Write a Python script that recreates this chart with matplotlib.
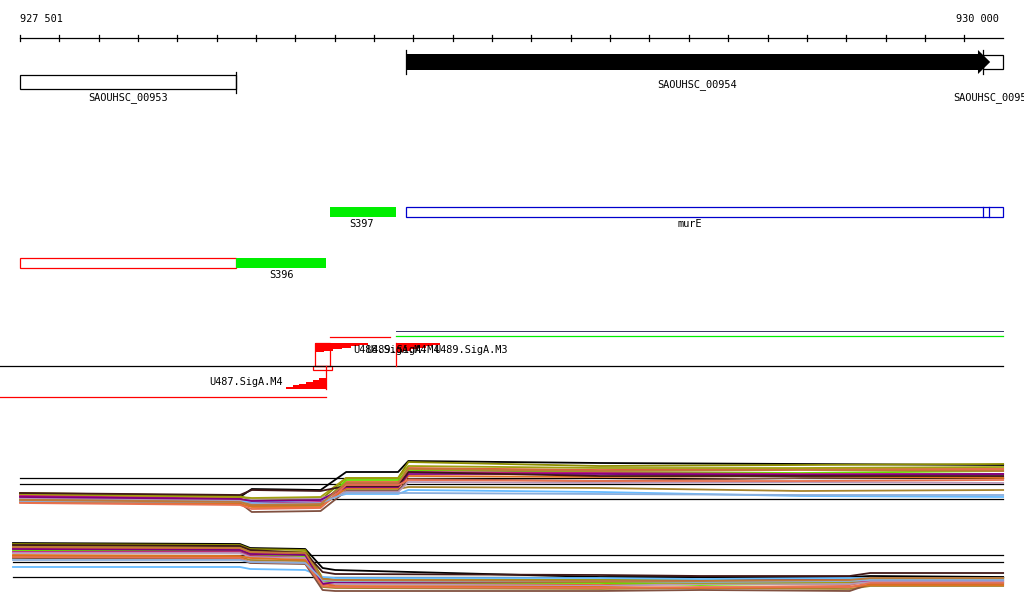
import numpy as np
import matplotlib.pyplot as plt
from matplotlib.patches import Rectangle, Polygon

# region shown (bp)
REGION_START = 927501
REGION_END = 930000
VIEW = (927450, 930053)
TICK_STEP = 100

# genes
GENE_NAMES = ["SAOUHSC_00953", "SAOUHSC_00954", "SAOUHSC_00955"]
GENE_START = [927501, 928482, 929949]
GENE_END = [928050, 929967, 930000]

# segments / operons
SEG_NAMES = ["S397", "murE", "S396"]

# promoters
PROM_NAMES = ["U487.SigA.M4", "U488.SigA.M4", "U489.SigA.M4", "U489.SigA.M3"]
PROM_POS = [928279, 928251, 928457, 928457]

# coverage track 1 (strand +): breakpoints and per-sample levels
TOP_X = [927501, 928060, 928090, 928265, 928330, 928462, 928488, 928975, 929485, 930000]
TOP_LINES = {
    "#000000": [494, 497, 489, 490, 472, 472, 461, 463, 464, 465],
    "#8c8c00": [493, 496, 500, 500, 478, 478, 462, 466, 465, 464],
    "#e0603a": [495, 498, 505, 504, 482, 482, 468, 470, 469, 469],
    "#66dd00": [497, 500, 506, 505, 480, 480, 470, 472, 473, 471],
    "#c0187a": [496, 499, 503, 502, 484, 484, 472, 473, 474, 474],
    "#66bbff": [500, 501, 502, 500, 494, 494, 490, 492, 496, 497],
    "#a8842c": [499, 502, 506, 505, 489, 489, 487, 488, 491, 490],
    "#805040": [501, 503, 512, 511, 491, 491, 479, 481, 478, 477],
    "#b898b8": [498, 500, 499, 498, 492, 492, 482, 483, 482, 483],
    "#e07020": [502, 504, 507, 507, 488, 488, 476, 477, 476, 478],
    "#800080": [497, 499, 501, 500, 487, 487, 474, 474, 475, 474],
    "#a0a010": [494, 497, 498, 497, 478, 478, 466, 468, 468, 467],
    "#401818": [493, 495, 490, 491, 486, 486, 472, 476, 476, 476],
    "#e87050": [503, 505, 509, 508, 485, 485, 480, 481, 481, 480],
    "#8aaedc": [501, 502, 504, 503, 493, 493, 493, 494, 495, 495],
    "#c07838": [500, 502, 505, 504, 483, 483, 469, 471, 470, 471],
}
TOP_REF = [478, 484, 499]

# coverage track 2 (strand -)
BOT_X = [927483, 928060, 928086, 928226, 928270, 928302, 928975, 929230, 929610, 929662, 930000]
BOT_LINES = {
    "#000000": [543, 544, 548, 549, 568, 570, 577, 577, 577, 576, 577],
    "#8c8c00": [544, 545, 549, 550, 578, 580, 580, 580, 579, 578, 578],
    "#e0603a": [548, 549, 553, 554, 583, 584, 585, 584, 585, 581, 582],
    "#66dd00": [550, 551, 555, 556, 581, 583, 583, 585, 583, 582, 583],
    "#c0187a": [552, 552, 556, 558, 585, 583, 582, 582, 582, 581, 581],
    "#66bbff": [567, 567, 569, 570, 577, 578, 578, 579, 578, 578, 578],
    "#a8842c": [556, 557, 560, 561, 587, 588, 589, 588, 589, 586, 586],
    "#805040": [558, 559, 563, 564, 590, 591, 591, 590, 591, 584, 584],
    "#b898b8": [553, 553, 557, 558, 582, 584, 586, 584, 584, 582, 582],
    "#e07020": [555, 556, 558, 560, 584, 586, 587, 588, 587, 585, 585],
    "#800080": [549, 550, 554, 555, 584, 582, 581, 581, 580, 580, 580],
    "#a0a010": [546, 547, 551, 552, 580, 581, 582, 583, 582, 579, 579],
    "#401818": [545, 546, 550, 553, 572, 574, 575, 576, 576, 573, 573],
    "#e87050": [557, 558, 562, 563, 586, 587, 588, 587, 587, 583, 583],
    "#8aaedc": [560, 560, 562, 563, 580, 581, 581, 582, 581, 580, 580],
    "#c07838": [547, 548, 552, 553, 579, 580, 581, 581, 580, 578, 578],
}
BOT_REF = [555, 562, 577]

FONT = dict(family="DejaVu Sans Mono", fontsize=7.4)


def wedge(ax, x, y_flat, length, height, direction, grow=1, color="red", steps=6):
    """Stepped promoter wedge: tall side at x, flat edge at y_flat,
    depth going down (grow=1) or up (grow=-1) from the flat edge."""
    pts = [(x, y_flat)]
    for i in range(steps):
        xa = x + direction * length * i / steps
        xb = x + direction * length * (i + 1) / steps
        d = grow * height * (1 - i / steps)
        pts += [(xa, y_flat + d), (xb, y_flat + d)]
    pts.append((x + direction * length, y_flat))
    ax.add_patch(Polygon(pts, closed=True, color=color, lw=0))


fig = plt.figure(figsize=(10.24, 6.11), dpi=100)
ax = fig.add_axes([0, 0, 1, 1])
ax.set_xlim(*VIEW)
ax.set_ylim(611, 0)
ax.axis("off")

# ruler
ax.plot([REGION_START, REGION_END], [38, 38], color="black", lw=0.9)
for t in range(REGION_START, REGION_END + 1, TICK_STEP):
    ax.plot([t, t], [35, 41], color="black", lw=0.9)
ax.text(REGION_START, 19, "927 501", ha="left", va="center", **FONT)
ax.text(929990, 19, "930 000", ha="right", va="center", **FONT)

# genes
ax.add_patch(Rectangle((GENE_START[0], 75), GENE_END[0] - GENE_START[0], 14,
                       fill=False, ec="black", lw=0.9))
ax.plot([GENE_END[0]] * 2, [72, 93], color="black", lw=0.9)
ax.text(927776, 98, GENE_NAMES[0], ha="center", va="center", **FONT)

s, e = GENE_START[1], GENE_END[1]
head = 31
ax.add_patch(Polygon([(s, 54), (e - head, 54), (e - head, 50), (e, 62),
                      (e - head, 74), (e - head, 70), (s, 70)],
                     closed=True, color="black", lw=0))
ax.plot([s, s], [50, 74], color="black", lw=0.9)
ax.text(929222, 85, GENE_NAMES[1], ha="center", va="center", **FONT)

ax.add_patch(Rectangle((GENE_START[2], 55), GENE_END[2] - GENE_START[2], 14,
                       fill=False, ec="black", lw=0.9))
ax.plot([GENE_START[2]] * 2, [50, 74], color="black", lw=0.9)
ax.text(929873, 98, GENE_NAMES[2], ha="left", va="center", **FONT)

# segments
ax.add_patch(Rectangle((928289, 207), 928457 - 928289, 10, color="#00ee00", lw=0))
ax.text(928368, 224, SEG_NAMES[0], ha="center", va="center", **FONT)
ax.add_patch(Rectangle((928482, 207), 930000 - 928482, 10, fill=False, ec="#0000cc", lw=0.9))
for xi in (929949, 929964):
    ax.plot([xi, xi], [207, 217], color="#0000cc", lw=0.9)
ax.text(929204, 224, SEG_NAMES[1], ha="center", va="center", **FONT)

ax.add_patch(Rectangle((927501, 258), 928050 - 927501, 10, fill=False, ec="red", lw=0.9))
ax.add_patch(Rectangle((928050, 258), 928279 - 928050, 10, color="#00ee00", lw=0))
ax.text(928165, 275, SEG_NAMES[2], ha="center", va="center", **FONT)

# transcripts
ax.plot([928289, 928442], [337, 337], color="red", lw=0.9)
ax.plot([928457, 930000], [336, 336], color="#00ee00", lw=0.9)
ax.plot([928457, 930000], [331, 331], color="#333366", lw=0.7)
ax.plot([VIEW[0], 930000], [366, 366], color="black", lw=0.9)
ax.plot([VIEW[0], 928279], [397, 397], color="red", lw=0.9)

# promoters
wedge(ax, PROM_POS[1], 343, 135, 9, +1, grow=1)
ax.add_patch(Rectangle((PROM_POS[1], 343), 928289 - PROM_POS[1], 23, fill=False, ec="red", lw=0.9))
ax.add_patch(Rectangle((928246, 366), 928294 - 928246, 4, fill=False, ec="red", lw=0.9))
wedge(ax, PROM_POS[2], 343, 112, 9, +1, grow=1)
ax.plot([PROM_POS[2]] * 2, [343, 366], color="red", lw=0.9)
wedge(ax, PROM_POS[0], 389, 102, 11, -1, grow=-1)
ax.plot([PROM_POS[0]] * 2, [366, 389], color="red", lw=0.9)
ax.text(928170, 382, PROM_NAMES[0], ha="right", va="center", **FONT)
ax.text(928348, 350, PROM_NAMES[1], ha="left", va="center", **FONT)
ax.text(928381, 350, PROM_NAMES[2], ha="left", va="center", **FONT)
ax.text(928553, 350, PROM_NAMES[3], ha="left", va="center", **FONT)

# coverage tracks
for y in TOP_REF:
    ax.plot([REGION_START, REGION_END], [y, y], color="black", lw=0.9, zorder=1)
for color, vals in TOP_LINES.items():
    ax.plot(TOP_X, vals, color=color, lw=1.3, zorder=2)

for y in BOT_REF:
    ax.plot([BOT_X[0], REGION_END], [y, y], color="black", lw=0.9, zorder=1)
for color, vals in BOT_LINES.items():
    ax.plot(BOT_X, vals, color=color, lw=1.3, zorder=2)

fig.savefig("out.png", dpi=100)
